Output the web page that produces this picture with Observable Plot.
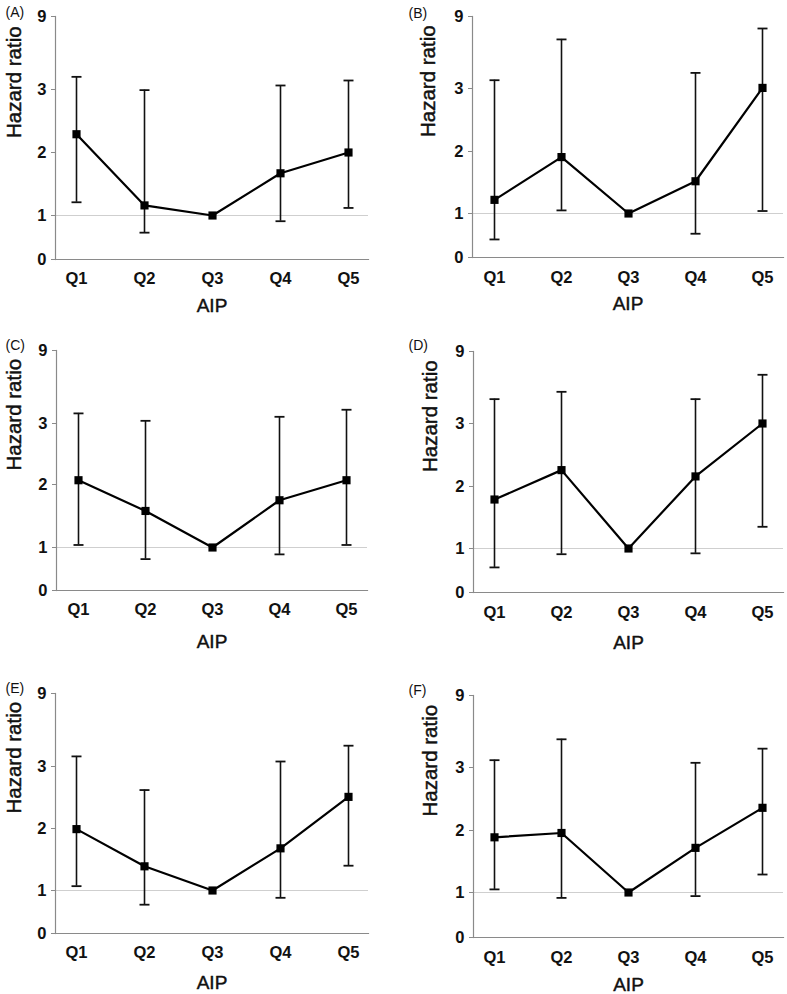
<!DOCTYPE html>
<html>
<head>
<meta charset="utf-8">
<script src="https://cdn.jsdelivr.net/npm/d3@7"></script>
<script src="https://cdn.jsdelivr.net/npm/@observablehq/plot@0.6"></script>
<style>
  html, body { margin: 0; padding: 0; background: #fff; }
  #root { position: relative; width: 787px; height: 994px; overflow: hidden; font-family: "Liberation Sans", Arial, sans-serif; }
  #root > div { position: absolute; }
  svg { overflow: visible; }
</style>
</head>
<body>
<div id="root"></div>
<script>
// ---------- data ----------
const quintiles = ["Q1", "Q2", "Q3", "Q4", "Q5"];
const yTicks = [0, 1, 2, 3, 9];
const panelLabels = ["(A)", "(B)", "(C)", "(D)", "(E)", "(F)"];
const xTitle = "AIP";
const yTitle = "Hazard ratio";

const hrA = [2.29, 1.16, 1, 1.67, 2.00];
const loA = [1.21, 0.61, null, 0.87, 1.12];
const hiA = [4.04, 2.99, null, 3.33, 3.74];

const hrB = [1.22, 1.91, 1, 1.52, 3.05];
const loB = [0.41, 1.05, null, 0.54, 1.04];
const hiB = [3.69, 7.09, null, 4.30, 8.00];

const hrC = [2.07, 1.58, 1, 1.75, 2.07];
const loC = [1.04, 0.73, null, 0.84, 1.04];
const hiC = [3.83, 3.22, null, 3.55, 4.13];

const hrD = [1.79, 2.26, 1, 2.16, 3.00];
const loD = [0.57, 0.87, null, 0.89, 1.35];
const hiD = [5.03, 5.64, null, 5.03, 7.06];

const hrE = [1.99, 1.39, 1, 1.68, 2.51];
const loE = [1.07, 0.67, null, 0.83, 1.40];
const hiE = [3.83, 2.62, null, 3.41, 4.71];

const hrF = [1.89, 1.96, 1, 1.72, 2.36];
const loF = [1.05, 0.88, null, 0.92, 1.29];
const hiF = [3.61, 5.35, null, 3.39, 4.57];

const series = [
  [hrA, loA, hiA], [hrB, loB, hiB], [hrC, loC, hiC],
  [hrD, loD, hiD], [hrE, loE, hiE], [hrF, loF, hiF]
];

// ---------- layout (pixels) ----------
const layout = [
  {left: 0,   top: 0,   h: 320, mL: 55, mR: 24, ty: [259, 215, 152, 89, 16], qPad: 13, xt: 46, yt: -41, lx: -50, ly: -4},
  {left: 395, top: 0,   h: 320, mL: 77, mR: 4,  ty: [257, 213, 151, 88, 16], qPad: 14, xt: 46, yt: -44, lx: -64, ly: -3},
  {left: 0,   top: 330, h: 330, mL: 56, mR: 25, ty: [260, 217, 154, 93, 20], qPad: 13, xt: 51, yt: -42, lx: -51, ly: -5},
  {left: 395, top: 330, h: 330, mL: 78, mR: 4,  ty: [262, 218, 156, 93, 21], qPad: 14, xt: 50, yt: -43, lx: -65, ly: -6},
  {left: 0,   top: 665, h: 329, mL: 55, mR: 24, ty: [268, 225, 163, 101, 28], qPad: 13, xt: 49, yt: -41, lx: -50, ly: -5},
  {left: 395, top: 665, h: 329, mL: 78, mR: 4,  ty: [272, 227, 165, 102, 30], qPad: 14, xt: 47, yt: -43, lx: -65, ly: -5}
];

const FONT = '"Liberation Sans", Arial, sans-serif';
const capSymbol = {
  draw(context, size) {
    const r = Math.sqrt(size / Math.PI);
    context.moveTo(-r, 0);
    context.lineTo(r, 0);
  }
};

const root = document.getElementById("root");

series.forEach(([hr, lo, hi], i) => {
  const L = layout[i];
  const data = quintiles.map((q, j) => ({q, hr: hr[j], lo: lo[j], hi: hi[j]}));
  const bars = data.filter(d => d.lo != null);
  const W = 392;
  const plot = Plot.plot({
    width: W,
    height: L.h,
    marginLeft: L.mL,
    marginRight: L.mR,
    marginTop: L.ty[4],
    marginBottom: L.h - L.ty[0],
    style: {fontFamily: FONT, background: "transparent", overflow: "visible"},
    x: {type: "point", domain: quintiles, padding: 0.3, label: null},
    y: {type: "linear", domain: yTicks, range: L.ty, label: null},
    marks: [
      Plot.ruleY([1], {stroke: "#cfcfcf", strokeWidth: 1}),
      Plot.frame({anchor: "left", stroke: "#8a8a8a", strokeWidth: 1.2}),
      Plot.frame({anchor: "bottom", stroke: "#8a8a8a", strokeWidth: 1.2}),
      Plot.axisY({ticks: yTicks, tickSize: 4, tickPadding: 5, stroke: "#8a8a8a", fill: "#111", fontSize: 16.5, fontWeight: "bold", tickFormat: d => String(d), label: null}),
      Plot.axisX({tickSize: 0, tickPadding: L.qPad, fill: "#111", fontSize: 16.5, fontWeight: "bold", label: null}),
      Plot.ruleX(bars, {x: "q", y1: "lo", y2: "hi", stroke: "#111", strokeWidth: 1.6}),
      Plot.dot(bars, {x: "q", y: "lo", symbol: capSymbol, r: 5, stroke: "#111", fill: "none", strokeWidth: 1.8}),
      Plot.dot(bars, {x: "q", y: "hi", symbol: capSymbol, r: 5, stroke: "#111", fill: "none", strokeWidth: 1.8}),
      Plot.lineY(data, {x: "q", y: "hr", stroke: "#000", strokeWidth: 2.2}),
      Plot.dot(data, {x: "q", y: "hr", symbol: "square", r: 4.6, fill: "#000", stroke: "none"}),
      Plot.text([yTitle], {frameAnchor: "left", rotate: -90, dx: L.yt, fontSize: 20.5, fill: "#111", stroke: "#111", strokeWidth: 0.45, lineAnchor: "middle"}),
      Plot.text([xTitle], {frameAnchor: "bottom", dy: L.xt, fontSize: 19, fill: "#111", stroke: "#111", strokeWidth: 0.45, lineAnchor: "middle"}),
      Plot.text([panelLabels[i]], {frameAnchor: "top-left", dx: L.lx, dy: L.ly, fontSize: 14, fill: "#111", textAnchor: "start", lineAnchor: "middle"})
    ]
  });
  const wrap = document.createElement("div");
  wrap.style.left = L.left + "px";
  wrap.style.top = L.top + "px";
  wrap.appendChild(plot);
  root.appendChild(wrap);
});
</script>
</body>
</html>
